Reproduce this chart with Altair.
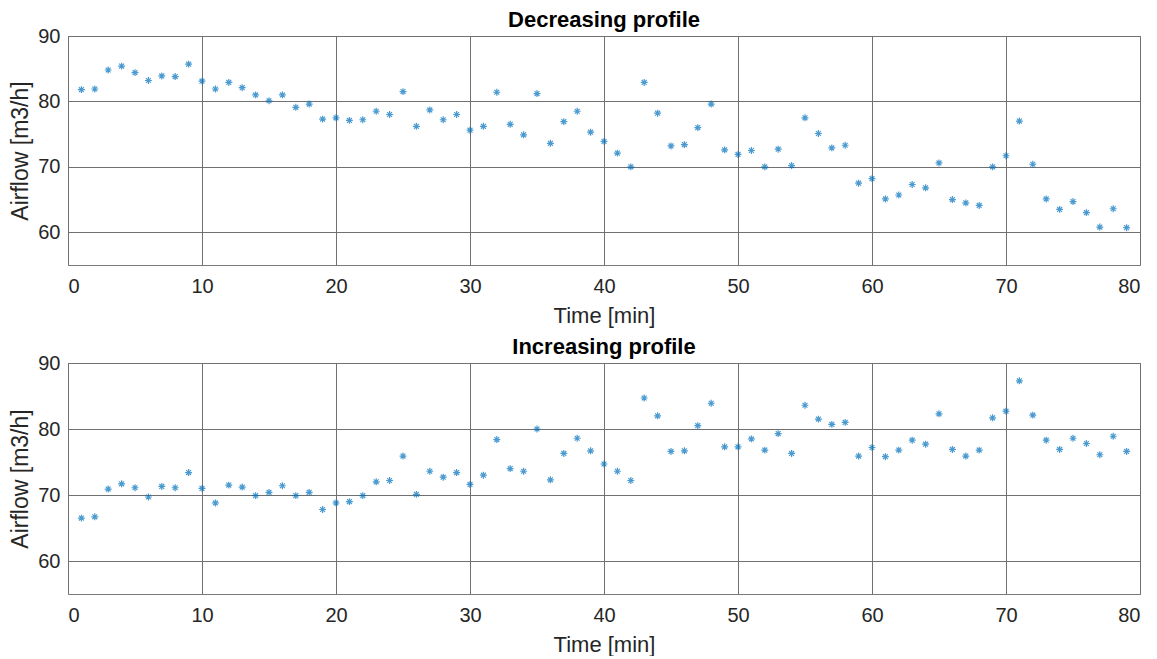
import altair as alt
import pandas as pd

time_min = [1, 2, 3, 4, 5, 6, 7, 8, 9, 10, 11, 12, 13, 14, 15, 16, 17, 18, 19, 20,
            21, 22, 23, 24, 25, 26, 27, 28, 29, 30, 31, 32, 33, 34, 35, 36, 37, 38, 39, 40,
            41, 42, 43, 44, 45, 46, 47, 48, 49, 50, 51, 52, 53, 54, 55, 56, 57, 58, 59, 60,
            61, 62, 63, 64, 65, 66, 67, 68, 69, 70, 71, 72, 73, 74, 75, 76, 77, 78, 79]

decreasing = [81.8, 81.9, 84.8, 85.4, 84.4, 83.2, 83.9, 83.8, 85.7, 83.1,
              81.9, 82.9, 82.1, 81.0, 80.1, 81.0, 79.1, 79.6, 77.3, 77.5,
              77.1, 77.2, 78.5, 78.0, 81.5, 76.2, 78.7, 77.2, 78.0, 75.6,
              76.2, 81.4, 76.5, 74.9, 81.2, 73.6, 76.9, 78.5, 75.3, 73.9,
              72.1, 70.0, 82.9, 78.2, 73.2, 73.4, 76.0, 79.6, 72.6, 71.9,
              72.5, 70.0, 72.7, 70.2, 77.5, 75.1, 72.9, 73.3, 67.5, 68.2,
              65.1, 65.7, 67.3, 66.8, 70.6, 65.0, 64.5, 64.1, 70.0, 71.7,
              77.0, 70.4, 65.1, 63.5, 64.7, 63.0, 60.8, 63.6, 60.7]

increasing = [66.5, 66.7, 70.9, 71.7, 71.1, 69.7, 71.3, 71.1, 73.4, 71.0,
              68.8, 71.5, 71.2, 69.9, 70.4, 71.4, 69.9, 70.4, 67.8, 68.8,
              69.0, 69.9, 72.0, 72.2, 75.9, 70.1, 73.6, 72.7, 73.4, 71.6,
              73.0, 78.4, 74.0, 73.6, 80.0, 72.3, 76.3, 78.6, 76.7, 74.7,
              73.6, 72.2, 84.7, 82.0, 76.6, 76.7, 80.5, 83.9, 77.3, 77.3,
              78.5, 76.8, 79.3, 76.3, 83.6, 81.5, 80.7, 81.0, 75.9, 77.2,
              75.8, 76.8, 78.3, 77.7, 82.3, 76.9, 75.9, 76.8, 81.7, 82.7,
              87.3, 82.1, 78.3, 76.9, 78.6, 77.8, 76.1, 78.9, 76.6]

x_ticks = [0, 10, 20, 30, 40, 50, 60, 70, 80]
y_ticks = [60, 70, 80, 90]

FONT = "Liberation Sans"
BLUE = "#0072BD"
ASTERISK = "M0,-1L0,1M-1,0L1,0M-0.7,-0.7L0.7,0.7M-0.7,0.7L0.7,-0.7"


def panel(values, title, h):
    df = pd.DataFrame({"t": time_min, "v": values})
    return alt.Chart(df, title=alt.TitleParams(
        title, font=FONT, fontSize=22, fontWeight="bold", color="#000000", offset=-6
    )).mark_point(
        shape=ASTERISK, size=48, filled=False, stroke=BLUE, strokeWidth=1.2
    ).encode(
        x=alt.X("t:Q", title="Time [min]",
                scale=alt.Scale(domain=[0, 80], nice=False, zero=False),
                axis=alt.Axis(values=x_ticks, format="d")),
        y=alt.Y("v:Q", title="Airflow [m3/h]",
                scale=alt.Scale(domain=[55, 90], nice=False, zero=False),
                axis=alt.Axis(values=y_ticks, format="d")),
    ).properties(width=1072, height=h)


chart = alt.vconcat(
    panel(decreasing, "Decreasing profile", 229),
    panel(increasing, "Increasing profile", 231),
    spacing=8,
).configure(
    padding={"left": 1, "top": 0, "right": 5, "bottom": 0}
).configure_axis(
    labelFont=FONT, labelFontSize=20, labelColor="#262626",
    titleFont=FONT, titleColor="#262626", titleFontWeight="normal",
    grid=True, gridColor="#707070", gridWidth=1, gridOpacity=1,
    domain=False, ticks=False,
).configure_axisX(
    titleFontSize=22, labelPadding=11, titlePadding=9
).configure_axisY(
    titleFontSize=23, labelPadding=8, titlePadding=5
).configure_view(
    stroke="#7a7a7a", strokeWidth=1
)

chart.save("out.html", embed_options={"renderer": "svg", "actions": False})
